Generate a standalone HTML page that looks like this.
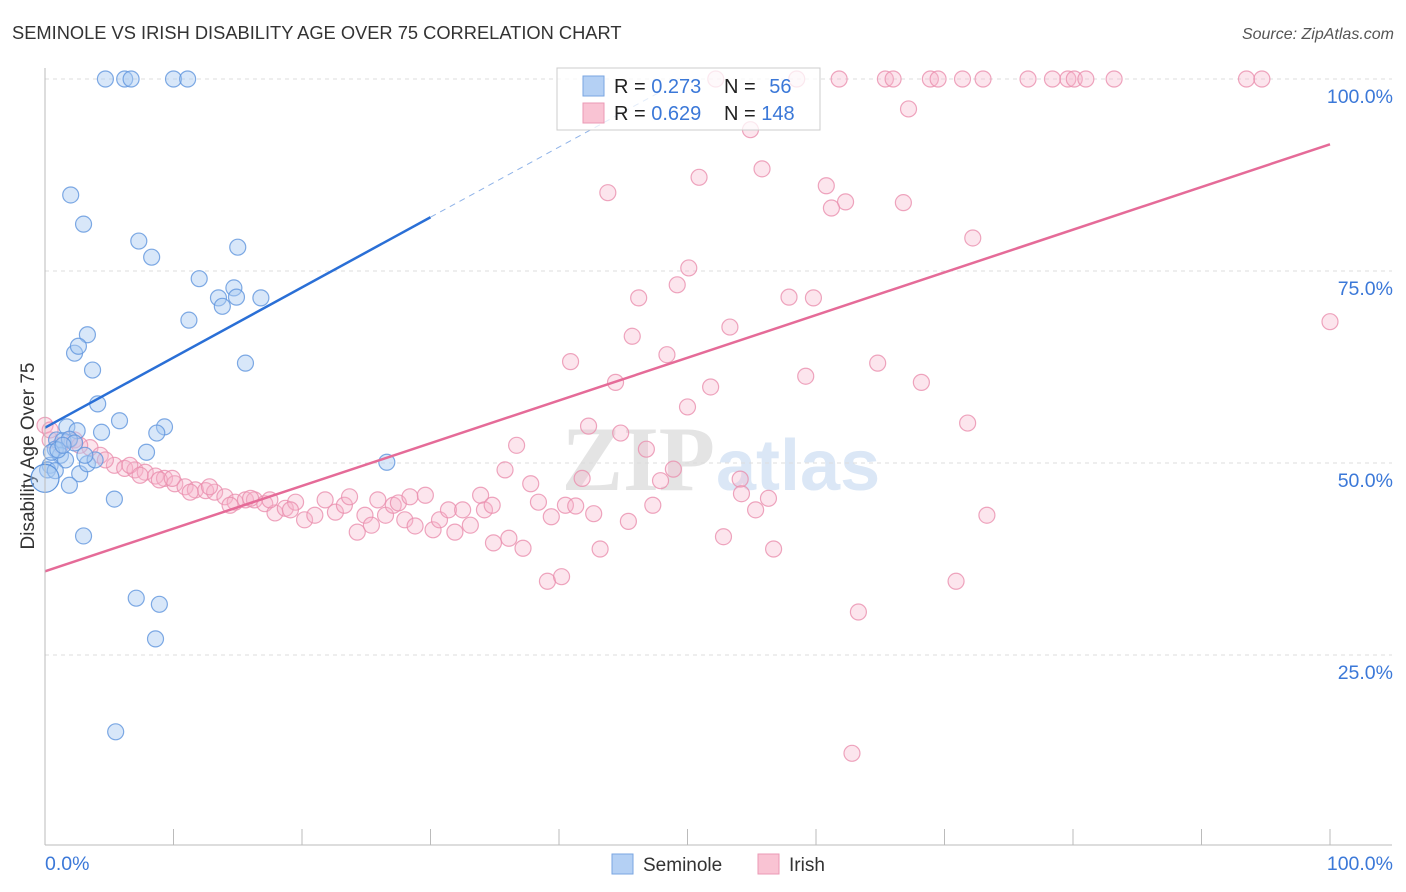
<!DOCTYPE html>
<html><head><meta charset="utf-8">
<style>
body{margin:0;background:#fff;font-family:"Liberation Sans",sans-serif;}
#wrap{position:relative;width:1406px;height:892px;overflow:hidden;}
</style></head>
<body>
<div id="wrap">
<svg id="svg" width="1406" height="892" xmlns="http://www.w3.org/2000/svg">
<text x="12" y="39" font-size="18.3" fill="#333">SEMINOLE VS IRISH DISABILITY AGE OVER 75 CORRELATION CHART</text>
<text x="1394" y="39" font-size="16" fill="#555" text-anchor="end" font-style="italic">Source: ZipAtlas.com</text>
<text x="34" y="456" font-size="19" fill="#333" text-anchor="middle" transform="rotate(-90 34 456)">Disability Age Over 75</text>
<text x="715" y="490" font-size="92" fill="#e4e4e4" text-anchor="end" font-family="Liberation Serif" font-weight="bold">ZIP</text>
<text x="716" y="490" font-size="72" fill="#dbe7f6" font-weight="bold">atlas</text>
<g id="grid"></g>
<g id="pts"></g>
<g id="trend"></g>
<g id="axes"></g>
<g>
<rect x="557" y="68" width="263" height="62" fill="#fff" fill-opacity="0.75" stroke="#ccc"/>
<rect x="583" y="76" width="21" height="20" fill="#b4d0f4" stroke="#7aa6e2"/>
<rect x="583" y="103" width="21" height="20" fill="#f9c3d3" stroke="#eb9ab5"/>
<text x="614" y="93" font-size="20" fill="#222">R = <tspan fill="#3b78d8">0.273</tspan></text>
<text x="724" y="93" font-size="20" fill="#222">N = <tspan fill="#3b78d8" dx="8">56</tspan></text>
<text x="614" y="120" font-size="20" fill="#222">R = <tspan fill="#3b78d8">0.629</tspan></text>
<text x="724" y="120" font-size="20" fill="#222">N = <tspan fill="#3b78d8">148</tspan></text>
</g>
<g>
<rect x="612" y="854" width="21" height="20" fill="#b4d0f4" stroke="#7aa6e2"/>
<text x="643" y="871" font-size="19" fill="#333">Seminole</text>
<rect x="758" y="854" width="21" height="20" fill="#f9c3d3" stroke="#eb9ab5"/>
<text x="789" y="871" font-size="19" fill="#333">Irish</text>
</g>
</svg>
</div>
<script>
const xTickVals=[0,10,20,30,40,50,60,70,80,90,100];
const yTickVals=[25,50,75,100];
const yTickLabels=["25.0%","50.0%","75.0%","100.0%"];
const xEndLabels=["0.0%","100.0%"];
const semX=[4.7,6.2,6.7,10.0,11.1,2.0,3.0,7.3,8.3,15.0,12.0,14.7,13.5,14.9,16.8,13.8,11.2,3.3,2.3,2.6,3.7,15.6,4.1,5.8,9.3,8.7,4.4,1.7,2.5,0.9,1.4,1.9,2.3,0.8,1.2,1.6,0.4,0.2,0.8,2.7,3.3,3.9,7.9,26.6,1.9,5.4,3.0,7.1,8.9,8.6,5.5,0.5,1.0,1.4,3.1];
const semY=[100,100,100,100,100,84.9,81.1,78.9,76.8,78.1,74.0,72.8,71.5,71.6,71.5,70.4,68.6,66.7,64.3,65.2,62.1,63.0,57.7,55.5,54.7,53.9,54.0,54.7,54.2,53.0,52.9,53.1,52.6,51.8,51.0,50.4,49.7,49.1,49.0,48.6,49.9,50.4,51.4,50.1,47.1,45.3,40.5,32.4,31.6,27.1,15.0,51.4,51.7,52.3,51.0];
const irX=[52.2,58.5,61.8,65.4,66.0,68.9,69.5,71.4,73.0,76.5,78.4,79.6,80.1,81.0,83.2,93.5,94.7,
67.2,54.9,43.8,50.9,55.8,60.8,62.3,61.2,66.8,72.2,50.1,49.2,46.2,57.9,59.8,53.3,45.7,48.4,100,40.9,64.8,59.2,68.2,44.4,51.8,50.0,71.8,36.7,42.3,44.8,46.8,48.9,35.8,41.8,37.8,47.9,54.1,54.2,56.3,55.3,73.3,45.4,47.3,52.8,56.7,43.2,39.1,40.2,70.9,63.3,62.8,34.9,36.1,37.2,39.4,40.5,42.7,41.3,38.4,
0,0.4,1.2,2.3,3.5,4.3,5.4,6.2,7.0,7.8,8.6,9.3,10.1,10.9,11.7,12.5,13.2,14.0,14.8,15.6,16.3,17.1,17.9,18.7,19.5,20.2,21.0,21.8,22.6,23.3,23.7,24.3,24.9,25.4,25.9,26.5,27.1,27.5,28.0,28.4,28.8,29.6,30.2,30.7,31.4,31.9,32.5,33.1,33.9,34.2,34.8,0.4,1.9,2.7,4.7,6.6,7.4,8.9,9.9,11.3,12.8,14.4,16.0,17.5,19.1];
const irY=[100,100,100,100,100,100,100,100,100,100,100,100,100,100,100,100,100,
96.1,93.4,85.2,87.2,88.3,86.1,84.0,83.2,83.9,79.3,75.4,73.2,71.5,71.6,71.5,67.7,66.5,64.1,68.4,63.2,63.0,61.3,60.5,60.5,59.9,57.3,55.2,52.3,54.8,53.9,51.8,49.2,49.1,48.0,47.3,47.7,47.9,46.0,45.4,43.9,43.2,42.4,44.5,40.4,38.8,38.8,34.6,35.2,34.6,30.6,12.2,39.6,40.2,38.9,43.0,44.5,43.4,44.4,44.9,
54.9,53.0,52.3,53.0,52.0,51.0,49.7,49.3,49.1,48.8,48.3,48.0,47.3,46.9,46.5,46.4,46.2,45.6,44.9,45.2,45.2,44.7,43.5,44.1,44.9,42.6,43.2,45.2,43.6,44.5,45.6,41.0,43.2,41.9,45.2,43.2,44.5,44.8,42.6,45.6,41.8,45.8,41.3,42.6,43.9,41.0,43.9,41.9,45.8,43.9,44.5,54.3,53.0,52.3,50.4,49.7,48.4,47.8,48.0,46.2,46.9,44.5,45.4,45.2,43.9];
const semTrend=[54.6,82.0]; // y at x=0 and x=30
const irTrend=[35.9,91.5];  // y at x=0 and x=100
const X0=45,X1=1330,Ytop=79,Ybot=847;
const sx=v=>X0+(X1-X0)*v/100;
const sy=v=>Ybot-(Ybot-Ytop)*v/100;
const NS="http://www.w3.org/2000/svg";
function mk(tag,attrs,parent){const e=document.createElementNS(NS,tag);for(const k in attrs)e.setAttribute(k,attrs[k]);parent.appendChild(e);return e;}
const grid=document.getElementById('grid'),pts=document.getElementById('pts'),trend=document.getElementById('trend'),axes=document.getElementById('axes');
yTickVals.forEach((v,i)=>{
  const l=mk('line',{x1:X0,x2:1392,y1:sy(v),y2:sy(v),stroke:'#ddd','stroke-dasharray':'4,4'},grid);
  
  
  const t=mk('text',{x:1393,y:sy(v)+24,'font-size':19.5,fill:'#3b78d8','text-anchor':'end'},axes);
  t.textContent=yTickLabels[i];
  
  
});
let a=mk('line',{x1:X0,x2:X0,y1:68,y2:845,stroke:'#bbb'},axes);


a=mk('line',{x1:X0,x2:1392,y1:845,y2:845,stroke:'#bbb'},axes);


xTickVals.forEach(v=>{
  const t=mk('line',{x1:sx(v),x2:sx(v),y1:829,y2:845,stroke:'#bbb'},axes);
  
  
});
let t=mk('text',{x:45,y:870,'font-size':19.5,fill:'#3b78d8'},axes);t.textContent=xEndLabels[0];


t=mk('text',{x:1393,y:870,'font-size':19.5,fill:'#3b78d8','text-anchor':'end'},axes);t.textContent=xEndLabels[1];


irX.forEach((x,i)=>{
  const c=mk('circle',{cx:sx(x),cy:sy(irY[i]),r:8,fill:'#f6b5ca','fill-opacity':0.35,stroke:'#ea8fae','stroke-width':1.2,'stroke-opacity':0.8},pts);
  
  
});
semX.forEach((x,i)=>{
  const c=mk('circle',{cx:sx(x),cy:sy(semY[i]),r:8,fill:'#a9c9f2','fill-opacity':0.45,stroke:'#5f95dd','stroke-width':1.2,'stroke-opacity':0.8},pts);
  
  
});
const big=mk('circle',{cx:sx(0),cy:sy(48),r:14,fill:'#a9c9f2','fill-opacity':0.45,stroke:'#5f95dd','stroke-width':1.2},pts);


const slope=(semTrend[1]-semTrend[0])/30;
let l=mk('line',{x1:sx(0),y1:sy(semTrend[0]),x2:sx(30),y2:sy(semTrend[1]),stroke:'#2a6fd6','stroke-width':2.5},trend);


l=mk('line',{x1:sx(30),y1:sy(semTrend[1]),x2:sx(48),y2:sy(semTrend[0]+slope*48),stroke:'#8fb3e8','stroke-width':1,'stroke-dasharray':'6,5'},trend);


l=mk('line',{x1:sx(0),y1:sy(irTrend[0]),x2:sx(100),y2:sy(irTrend[1]),stroke:'#e56b98','stroke-width':2.5},trend);


</script>
</body></html>
